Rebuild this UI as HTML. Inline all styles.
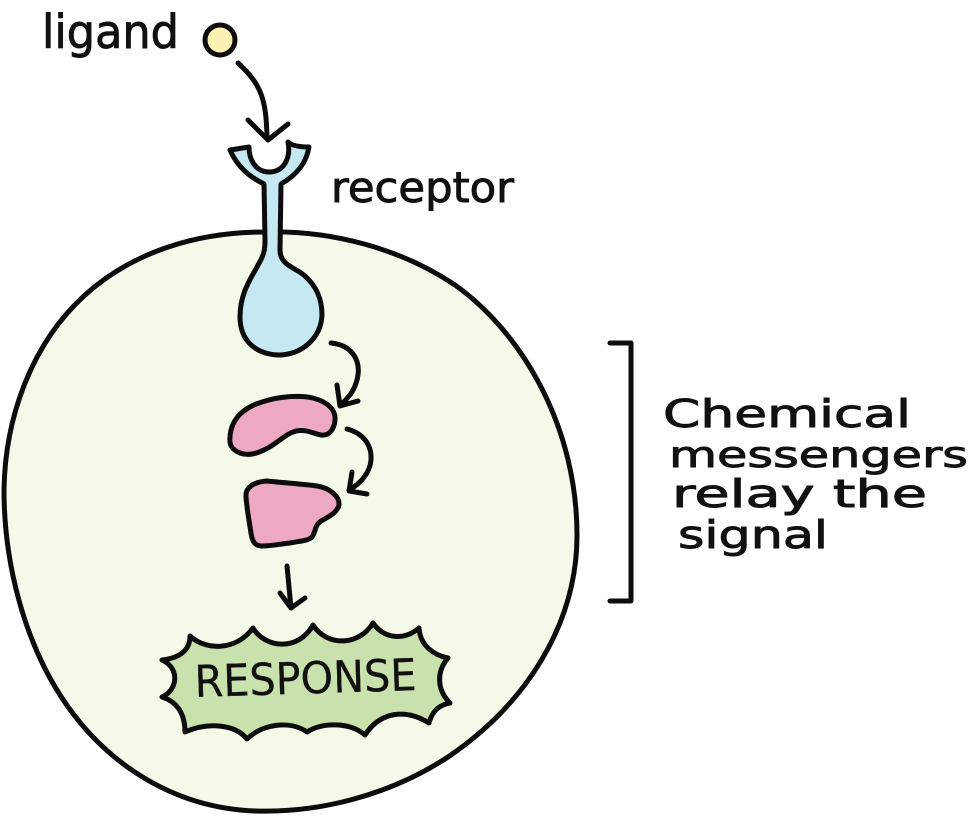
<!DOCTYPE html>
<html><head><meta charset="utf-8"><style>html,body{margin:0;padding:0;background:#fff}svg{display:block}text{font-family:"DejaVu Sans","Liberation Sans",sans-serif;fill:#111;stroke:#111;stroke-width:.9px}</style></head>
<body>
<svg width="971" height="816" viewBox="0 0 971 816" xmlns="http://www.w3.org/2000/svg">
<g stroke="#0c0c0c" stroke-width="5" stroke-linecap="round" stroke-linejoin="round" fill="none">
<path d="M265 232C330 230 400 248 455 285C525 335 577 430 577 535C577 625 525 705 448 757C390 795 320 813 255 811C175 808 105 765 60 695C25 640 4 565 4 490C5 420 30 345 85 295C135 250 200 232 265 232Z" fill="#f5f9e9"/>
<path d="M230 150L249 147C249 160 256 172 269 172C284 172 291 158 288 142C292 146 300 147 309 147C306 165 295 176 281 184L280 250C280 266 297 268 305 276C316 286 322 298 322 315C321 338 302 355 278 355C255 354 240 340 240 317C240 292 252 277 258 265C264 255 265 250 265 240L264 184C250 177 238 168 230 150Z" fill="#c6e8f3"/>
<path d="M230 437C231 418 245 407 262 402C280 396 300 395 313 398C328 402 336 410 335 420C334 431 328 436 321 435C312 433 306 429 296 431C285 434 278 443 266 449C256 454 248 456 240 453C232 450 229 445 230 437Z" fill="#eda9c2"/>
<path d="M246 497C245 488 253 482 267 481C285 483 305 484 317 486C330 488 340 497 339 505C337 513 328 517 321 521C314 526 316 532 312 537C308 541 300 541 290 543C280 544 272 546 262 546C254 546 252 540 251 533C249 520 247 510 246 497Z" fill="#eda9c2"/>
<path d="M162 660C180 658 190 650 190 636C205 650 235 652 253 628C265 648 298 652 313 625C328 648 360 645 373 623C385 640 405 640 419 628C420 645 433 655 448 658C436 672 437 690 450 703C438 705 432 712 429 723C405 708 380 712 365 735C350 722 322 722 307 732C290 720 262 724 247 739C235 724 208 722 185 732C185 715 178 702 162 697C178 690 180 668 162 660Z" fill="#c9e1ad"/>
<path d="M238 63C262 85 266 100 267 137"/>
<path d="M248 120L268 140L288 124"/>
<path d="M331 343C352 345 360 360 358 375C356 388 350 397 340 405"/>
<path d="M337 385L340 406L358 401"/>
<path d="M347 429C363 433 372 445 371 460C370 473 360 484 349 490"/>
<path d="M352 472L349 491L367 494"/>
<path d="M287 566L291 608"/>
<path d="M280 593L291 608L305 598"/>
<path d="M610 343H631V601H610"/>
</g>
<circle cx="220" cy="40" r="15" fill="#fbf1b4" stroke="#0c0c0c" stroke-width="5"/>
<text x="42" y="48" font-size="46" textLength="137" lengthAdjust="spacingAndGlyphs">ligand</text>
<text x="331" y="202" font-size="42" textLength="183" lengthAdjust="spacingAndGlyphs">receptor</text>
<text x="195" y="697" font-size="44" textLength="222" lengthAdjust="spacingAndGlyphs" transform="rotate(-1.8 195 697)" style="stroke-width:.3px">RESPONSE</text>
<text x="663" y="427" font-size="38" textLength="248" lengthAdjust="spacingAndGlyphs">Chemical</text>
<text x="669" y="467" font-size="36" textLength="299" lengthAdjust="spacingAndGlyphs">messengers</text>
<text x="672" y="507" font-size="38" textLength="255" lengthAdjust="spacingAndGlyphs">relay the</text>
<text x="678" y="548" font-size="38" textLength="150" lengthAdjust="spacingAndGlyphs">signal</text>
</svg>
</body></html>
